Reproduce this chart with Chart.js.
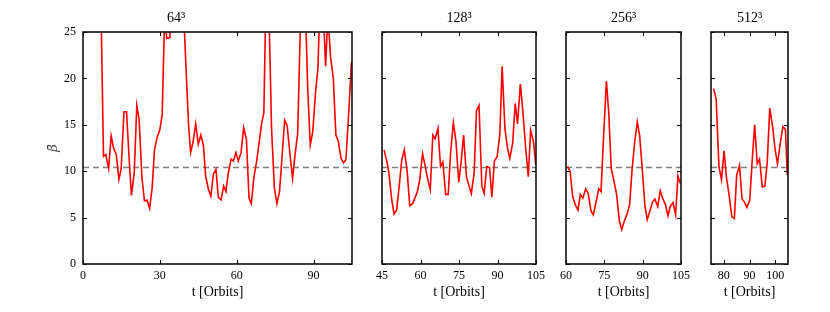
<!DOCTYPE html>
<html>
<head>
<meta charset="utf-8">
<script src="https://cdn.jsdelivr.net/npm/chart.js@4.4.0/dist/chart.umd.min.js"></script>
<style>
  html, body { margin: 0; padding: 0; background: #fff; }
  #wrap { position: relative; width: 830px; height: 312px; overflow: hidden; }
  canvas { position: absolute; top: 0; }
</style>
</head>
<body>
<div id="wrap">
  <canvas id="p0"></canvas>
  <canvas id="p1"></canvas>
  <canvas id="p2"></canvas>
  <canvas id="p3"></canvas>
</div>
<script>
// time-averaged plasma beta vs time, one panel per resolution
const t64 = [7, 8, 8.9, 10, 11, 11.9, 13, 14, 14.9, 16, 17, 18, 18.9, 20, 21, 21.9, 23, 24, 25, 26, 27, 27.9, 28.9, 30, 30.9, 31.9, 32.7, 33.9, 34.9, 36, 37, 38, 39, 40.2, 41.2, 42, 43, 44, 45, 46, 47, 47.9, 49, 49.9, 50.9, 51.9, 52.8, 53.9, 54.9, 55.8, 56.7, 57.8, 58.7, 59.7, 60.6, 61.7, 62.7, 63.8, 64.8, 65.7, 66.7, 67.8, 68.7, 69.7, 70.6, 71.6, 72.6, 73.6, 74.7, 75.7, 76.7, 77.6, 78.7, 79.7, 80.8, 81.8, 82.7, 83.8, 84.7, 85.7, 86.7, 87.7, 88.7, 89.7, 90.8, 91.7, 92.7, 93.7, 94.7, 95.6, 96.6, 97.7, 98.7, 99.6, 100.7, 101.7, 102.6, 103.6, 104.8];
const beta64 = [28, 11.6, 11.8, 10.3, 13.8, 12.5, 11.8, 9.1, 10.3, 16.4, 16.4, 11.4, 7.4, 9.8, 17.1, 15.6, 9.3, 6.8, 6.9, 6.0, 8.2, 12.3, 13.6, 14.5, 16.1, 27, 24.3, 24.4, 32, 36, 34, 38, 29, 21.2, 15, 12, 13.2, 15.1, 12.9, 13.9, 12.8, 9.4, 8.0, 7.3, 9.7, 10.2, 7.2, 6.9, 8.4, 7.8, 9.8, 11.3, 11.1, 12.0, 11.1, 12.0, 14.7, 13.4, 7.1, 6.5, 9.3, 11.1, 13.0, 15.1, 16.3, 32, 27, 14.6, 8.2, 6.5, 7.8, 11.2, 15.5, 14.9, 11.8, 9.2, 11.6, 14.1, 24, 34, 29, 19, 12.8, 14.3, 18.6, 21.1, 30, 28, 21.3, 27, 22.4, 20, 13.9, 13.3, 11.4, 10.9, 11.2, 15.7, 21.8];

const t128 = [45.8, 47, 47.7, 48.8, 49.7, 50.7, 51.7, 52.7, 53.7, 54.8, 55.8, 56.9, 57.8, 58.8, 59.7, 60.8, 61.7, 62.7, 63.8, 64.8, 65.7, 66.8, 67.8, 68.7, 69.8, 70.8, 71.7, 72.8, 73.8, 74.9, 75.8, 76.8, 77.9, 78.8, 79.8, 80.9, 81.8, 82.8, 83.9, 84.8, 85.8, 86.9, 87.8, 88.8, 89.9, 90.9, 91.8, 92.9, 93.9, 94.8, 95.9, 96.9, 97.8, 98.9, 99.9, 101, 102, 102.9, 104, 104.9];
const beta128 = [12.3, 10.9, 9.8, 6.9, 5.4, 5.8, 8.4, 11.2, 12.3, 10.0, 6.3, 6.5, 7.1, 7.8, 9.1, 11.9, 10.7, 9.3, 8.0, 13.9, 13.5, 14.6, 10.5, 11.0, 7.5, 7.5, 11.9, 15.2, 13.3, 8.8, 10.9, 13.9, 9.4, 8.5, 7.6, 9.8, 16.5, 17.1, 8.4, 7.6, 10.5, 10.4, 7.2, 11.1, 11.6, 14.0, 21.3, 14.6, 12.5, 11.4, 13.0, 17.3, 15.1, 19.4, 16.4, 12.4, 9.4, 14.4, 13.2, 10.7];

const t256 = [60.6, 61.6, 62.6, 63.6, 64.7, 65.6, 66.6, 67.7, 68.7, 69.8, 70.7, 71.7, 72.8, 73.7, 74.7, 75.8, 76.7, 77.7, 78.8, 79.8, 80.9, 81.8, 82.8, 83.9, 84.9, 85.8, 86.9, 87.9, 88.8, 89.9, 90.9, 91.8, 92.9, 93.9, 94.8, 95.9, 96.9, 97.8, 98.9, 99.9, 100.8, 101.9, 102.9, 103.8, 104.7];
const beta256 = [10.5, 10.0, 7.3, 6.4, 5.8, 7.5, 7.1, 8.1, 7.6, 5.7, 5.3, 6.6, 8.1, 7.8, 13.7, 19.7, 16.4, 10.3, 8.9, 7.5, 4.6, 3.7, 4.6, 5.4, 6.4, 10.0, 13.2, 15.3, 13.9, 10.0, 6.2, 4.8, 5.8, 6.7, 7.0, 6.2, 7.9, 7.1, 6.4, 5.2, 6.2, 6.6, 5.3, 9.5, 8.7];

const t512 = [76, 77, 78.1, 79.1, 80.1, 81, 82.1, 83.1, 84.1, 85, 86.1, 87.1, 88, 89, 90.1, 91, 92, 93, 93.9, 95, 96, 96.9, 97.9, 99, 100, 100.9, 101.9, 103, 104, 104.7];
const beta512 = [18.9, 17.8, 10.5, 9.1, 12.2, 9.4, 7.3, 5.1, 4.9, 9.6, 10.6, 7.0, 6.7, 6.1, 6.9, 10.9, 15.0, 10.8, 11.3, 8.3, 8.4, 10.9, 16.8, 14.8, 12.3, 10.8, 12.8, 14.8, 14.5, 9.6];

const meanBeta = 10.4;

const panelTitles = ['64\u00B3', '128\u00B3', '256\u00B3', '512\u00B3'];
const panelT = [t64, t128, t256, t512];
const panelBeta = [beta64, beta128, beta256, beta512];
const xMin = [0, 45, 60, 75];
const xMax = [105, 105, 105, 105];
const xTicks = [
  [0, 30, 60, 90],
  [45, 60, 75, 90, 105],
  [60, 75, 90, 105],
  [80, 90, 100]
];
const yTicks = [0, 5, 10, 15, 20, 25];

// canvas placement: left edge, width, padding left/right around the plot box
const place = [
  { left: 0,   width: 366, padL: 0,  padR: 14 },
  { left: 366, width: 184, padL: 16, padR: 14 },
  { left: 550, width: 145, padL: 16, padR: 14 },
  { left: 695, width: 110, padL: 16, padR: 17 }
];

const serif = '"Liberation Serif", "DejaVu Serif", serif';

// matplotlib-like frame with inward ticks on all four sides
const frame = {
  id: 'frame',
  afterDatasetsDraw(chart) {
    const { ctx, chartArea: a, scales } = chart;
    const x = scales.x, y = scales.y;
    ctx.save();
    ctx.strokeStyle = '#000';
    ctx.lineWidth = 1;
    ctx.beginPath();
    x.ticks.forEach(tk => {
      const px = Math.round(x.getPixelForValue(tk.value)) + 0.5;
      ctx.moveTo(px, a.bottom); ctx.lineTo(px, a.bottom - 4);
      ctx.moveTo(px, a.top); ctx.lineTo(px, a.top + 4);
    });
    y.ticks.forEach(tk => {
      const py = Math.round(y.getPixelForValue(tk.value)) + 0.5;
      ctx.moveTo(a.left, py); ctx.lineTo(a.left + 4, py);
      ctx.moveTo(a.right, py); ctx.lineTo(a.right - 4, py);
    });
    ctx.stroke();
    ctx.lineWidth = 1.6;
    ctx.strokeStyle = '#111';
    ctx.strokeRect(a.left, a.top, a.right - a.left, a.bottom - a.top);
    ctx.restore();
  }
};

panelTitles.forEach((title, i) => {
  const cv = document.getElementById('p' + i);
  cv.width = place[i].width;
  cv.height = 312;
  cv.style.left = place[i].left + 'px';
  cv.style.width = place[i].width + 'px';
  cv.style.height = '312px';

  const first = i === 0;
  const points = panelT[i].map((t, k) => ({ x: t, y: panelBeta[i][k] }));

  new Chart(cv.getContext('2d'), {
    type: 'line',
    data: {
      datasets: [{
        data: points,
        borderColor: '#ff0000',
        borderWidth: 1.6,
        pointRadius: 0,
        tension: 0,
        fill: false
      }, {
        data: [{ x: xMin[i], y: meanBeta }, { x: xMax[i], y: meanBeta }],
        borderColor: '#808080',
        borderWidth: 1.3,
        borderDash: [6, 4],
        pointRadius: 0,
        fill: false
      }]
    },
    options: {
      responsive: false,
      devicePixelRatio: 1,
      animation: false,
      layout: { padding: { left: place[i].padL, right: place[i].padR, top: 0, bottom: 0 } },
      plugins: {
        legend: { display: false },
        tooltip: { enabled: false },
        title: {
          display: true,
          text: title,
          color: '#000',
          font: { family: serif, size: 14, weight: 'normal', lineHeight: 1.2 },
          padding: { top: 10, bottom: 5.2 }
        }
      },
      scales: {
        x: {
          type: 'linear',
          min: xMin[i],
          max: xMax[i],
          grid: { display: false, drawTicks: false },
          border: { display: false },
          afterBuildTicks(scale) { scale.ticks = xTicks[i].map(v => ({ value: v })); },
          ticks: {
            padding: 5,
            color: '#000',
            font: { family: serif, size: 12 }
          },
          title: {
            display: true,
            text: 't [Orbits]',
            color: '#000',
            font: { family: serif, size: 14, lineHeight: 1.2 },
            padding: { top: 0, bottom: 11 }
          },
          afterFit(scale) { scale.height = 48; }
        },
        y: {
          type: 'linear',
          min: 0,
          max: 25,
          grid: { display: false, drawTicks: false },
          border: { display: false },
          afterBuildTicks(scale) { scale.ticks = yTicks.map(v => ({ value: v })); },
          ticks: {
            display: first,
            padding: 7,
            color: '#000',
            font: { family: serif, size: 12 }
          },
          title: {
            display: first,
            text: '\u03B2\u0304',
            color: '#444',
            font: { family: '"DejaVu Serif", serif', size: 13, style: 'italic', lineHeight: 1.2 },
            padding: { top: 46, bottom: 0 }
          },
          afterFit(scale) { scale.width = first ? 83 : 0; }
        }
      }
    },
    plugins: [frame]
  });
});
</script>
</body>
</html>
